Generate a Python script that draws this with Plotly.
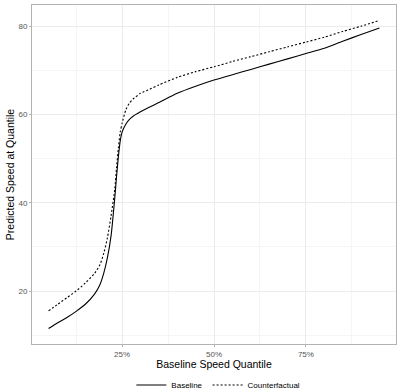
import plotly.graph_objects as go

quantiles = [5, 7.5, 10, 12.5, 15, 17.5, 19, 20, 21, 22, 23, 23.5, 24, 24.5, 25, 26, 27, 28,
             30, 32.5, 35, 40, 45, 50, 55, 60, 65, 70, 75, 80, 85, 90, 95]
baseline = [11.5, 12.8, 14.0, 15.4, 17.0, 19.3, 21.5, 24.0, 27.5, 32.5, 41.0, 46.0, 50.5, 54.0,
            56.0, 57.8, 58.9, 59.6, 60.6, 61.7, 62.7, 64.8, 66.4, 67.8, 69.0, 70.2, 71.4,
            72.6, 73.8, 75.0, 76.6, 78.1, 79.6]
counterfactual = [15.5, 17.0, 18.5, 20.0, 21.8, 24.0, 26.0, 28.5, 32.0, 37.0, 43.0, 48.0, 52.5,
                  56.0, 58.0, 61.0, 62.6, 63.5, 64.8, 65.7, 66.7, 68.4, 69.7, 70.8, 72.0, 73.1,
                  74.2, 75.3, 76.4, 77.5, 78.8, 80.0, 81.3]
x_tickvals = [25, 50, 75]
x_ticktext = ["25%", "50%", "75%"]
y_tickvals = [20, 40, 60, 80]

FONT = "Liberation Sans, Arial, sans-serif"

fig = go.Figure()
fig.add_trace(go.Scatter(x=quantiles, y=baseline, mode="lines", name="Baseline",
                         line=dict(color="black", width=1.1, dash="solid", shape="spline", smoothing=0.6)))
fig.add_trace(go.Scatter(x=quantiles, y=counterfactual, mode="lines", name="Counterfactual",
                         line=dict(color="black", width=1.1, dash="2px,2px", shape="spline", smoothing=0.6)))

axis_common = dict(showline=True, linecolor="#b3b3b3", linewidth=1, mirror=True,
                   gridcolor="#ebebeb", gridwidth=1, zeroline=False, automargin=False,
                   ticks="outside", ticklen=2, tickcolor="#b3b3b3",
                   tickfont=dict(family=FONT, size=8, color="#555555"))

fig.update_xaxes(range=[0.5, 99.5], tickvals=x_tickvals, ticktext=x_ticktext,
                 title=dict(text="Baseline Speed Quantile", font=dict(family=FONT, size=10.5, color="black"), standoff=3),
                 minor=dict(tickvals=[12.5, 37.5, 62.5, 87.5], showgrid=True, gridcolor="#f5f5f5", gridwidth=1),
                 **axis_common)
fig.update_yaxes(range=[8, 84.8], tickvals=y_tickvals,
                 title=dict(text="Predicted Speed at Quantile", font=dict(family=FONT, size=10.5, color="black"), standoff=1),
                 minor=dict(tickvals=[10, 30, 50, 70], showgrid=True, gridcolor="#f5f5f5", gridwidth=1),
                 **axis_common)

fig.update_layout(
    width=397, height=390,
    margin=dict(l=32, r=1, t=5, b=46),
    plot_bgcolor="white", paper_bgcolor="white",
    font=dict(family=FONT),
    showlegend=True,
    legend=dict(orientation="h", x=0.55, xanchor="center", xref="container",
                y=0.0128, yanchor="middle", yref="container",
                font=dict(family=FONT, size=8, color="black"), bgcolor="rgba(0,0,0,0)",
                itemwidth=30, tracegroupgap=0),
)

fig.write_html("out.html", config={"displayModeBar": False},
               post_script="document.body.style.margin='0';document.body.style.padding='0';")
